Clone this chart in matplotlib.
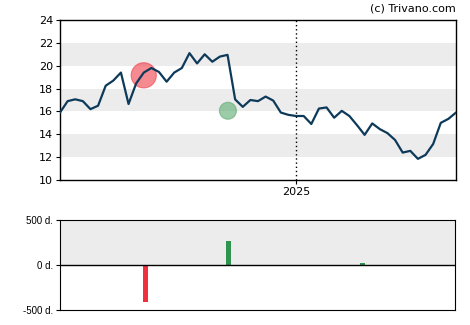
import matplotlib.pyplot as plt
import numpy as np

# weekly closing prices, one year
prices = [15.9, 16.9, 17.06, 16.9, 16.2, 16.5, 18.25, 18.7, 19.4, 16.65, 18.45, 19.4, 19.8,
          19.45, 18.6, 19.4, 19.8, 21.1, 20.2, 21.0, 20.35, 20.8, 20.95,
          17.05, 16.4, 17.0, 16.9, 17.3, 16.95, 15.9, 15.7, 15.6, 15.6, 14.9, 16.25, 16.35,
          15.45, 16.05, 15.6, 14.8, 13.95, 14.95, 14.45, 14.1, 13.5, 12.4, 12.55, 11.85,
          12.2, 13.15, 15.0, 15.35, 15.9]
year_week = 31
year_label = '2025'

# signal markers on the price line
sig_x = [11.0, 22.05]
sig_y = [19.16, 16.06]
sig_size = [330, 150]
sig_color = ['#f03c48', '#5aaa6e']

# bars below: days
bar_x = [11.3, 22.2, 39.8]
bar_days = [-411, 263, 18]
bar_color = ['#f0303e', '#2e9450', '#2e9450']

fig = plt.figure(figsize=(4.7, 3.25), dpi=100)
ax = fig.add_axes([60 / 470, 145 / 325, 396 / 470, 160 / 325])
ax2 = fig.add_axes([60 / 470, 15 / 325, 395 / 470, 90 / 325])

x = np.arange(len(prices))
for lo in (12, 16, 20):
    ax.axhspan(lo, lo + 2, color='#ececec', lw=0, zorder=0)
ax.scatter(sig_x, sig_y, s=sig_size, c=sig_color, alpha=0.6, lw=0.8,
           edgecolors=sig_color, zorder=2)
ax.plot(x, prices, color='#0e3a5a', lw=1.6, zorder=3)
ax.axvline(year_week, color='black', ls=(0, (1, 2)), lw=1, zorder=1)
ax.set_xlim(0, len(prices) - 1)
ax.set_ylim(10, 24)
ax.set_yticks(range(10, 25, 2))
ax.set_xticks([year_week])
ax.set_xticklabels([year_label])
ax.tick_params(labelsize=8, length=3, pad=2)
for s in ax.spines.values():
    s.set_linewidth(1)
ax.text(1.0, 1.04, '(c) Trivano.com', transform=ax.transAxes, ha='right', va='bottom',
        fontsize=8)

ax2.axhspan(0, 500, color='#ececec', lw=0, zorder=0)
ax2.bar(bar_x, bar_days, width=0.65, color=bar_color, zorder=2)
ax2.axhline(0, color='black', lw=1, zorder=3)
ax2.set_xlim(0, len(prices) - 1)
ax2.set_ylim(-500, 500)
ax2.set_yticks([500, 0, -500])
ax2.set_yticklabels(['500 d.', '0 d.', '-500 d.'], family='Liberation Sans')
ax2.set_xticks([])
ax2.tick_params(labelsize=7, length=3, pad=2)

fig.savefig('out.png', dpi=100)
